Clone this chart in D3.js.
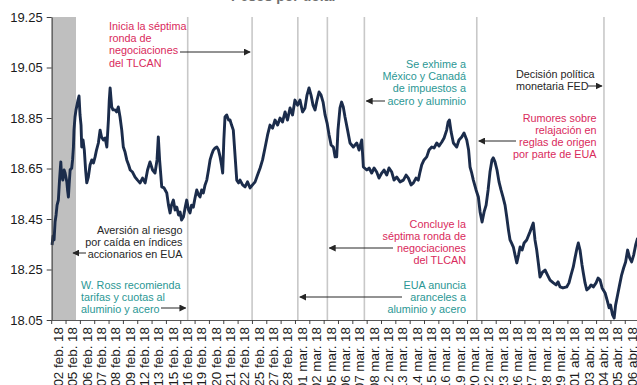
<!DOCTYPE html>
<html><head><meta charset="utf-8">
<script src="https://cdn.jsdelivr.net/npm/d3@7"></script>
<style>
html,body{margin:0;padding:0;background:#fff;overflow:hidden}
svg{display:block;font-family:"Liberation Sans",Arial,sans-serif}
</style></head><body>
<svg id="chart" width="637" height="385"></svg>
<script>
// Trading sessions shown on the category axis
const sessionLabels = [
  "02 feb. 18","05 feb. 18","06 feb. 18","07 feb. 18","08 feb. 18","09 feb. 18",
  "12 feb. 18","13 feb. 18","15 feb. 18","16 feb. 18","19 feb. 18","20 feb. 18",
  "21 feb. 18","22 feb. 18","25 feb. 18","27 feb. 18","28 feb. 18","01 mar. 18",
  "02 mar. 18","05 mar. 18","06 mar. 18","07 mar. 18","08 mar. 18","12 mar. 18",
  "13 mar. 18","14 mar. 18","15 mar. 18","16 mar. 18","19 mar. 18","20 mar. 18",
  "22 mar. 18","23 mar. 18","26 mar. 18","27 mar. 18","28 mar. 18","29 mar. 18",
  "01 abr. 18","03 abr. 18","04 abr. 18","05 abr. 18","06 abr. 18"
];

// Intraday quotes: position in sessions (0 = first session) and pesos per dollar
const priceT = [
  -0.44,-0.37,-0.30,-0.23,-0.16,-0.09,0.00,0.08,0.17,0.22,
  0.31,0.40,0.47,0.59,0.64,0.70,0.75,0.82,0.93,0.99,
  1.05,1.09,1.16,1.23,1.30,1.37,1.44,1.51,1.58,1.63,
  1.72,1.81,1.90,1.98,2.09,2.21,2.33,2.45,2.56,2.66,
  2.79,2.91,3.01,3.14,3.26,3.38,3.49,3.55,3.61,3.68,
  3.72,3.81,3.95,4.06,4.18,4.30,4.42,4.53,4.65,4.77,
  4.90,5.01,5.17,5.35,5.52,5.70,5.87,6.05,6.22,6.39,
  6.57,6.74,6.88,6.97,7.06,7.21,7.37,7.56,7.68,7.79,
  7.89,8.02,8.14,8.26,8.38,8.49,8.59,8.72,8.84,8.95,
  9.08,9.18,9.29,9.41,9.53,9.65,9.78,9.88,9.99,10.11,
  10.23,10.35,10.47,10.58,10.68,10.81,10.93,11.05,11.17,11.28,
  11.38,11.46,11.54,11.62,11.74,11.87,11.97,12.08,12.20,12.32,
  12.44,12.57,12.67,12.85,13.02,13.19,13.37,13.54,13.72,13.89,
  14.07,14.24,14.41,14.59,14.76,14.94,15.11,15.29,15.46,15.63,
  15.81,15.98,16.16,16.33,16.50,16.68,16.85,17.03,17.20,17.34,
  17.48,17.62,17.76,17.90,18.04,18.18,18.32,18.46,18.60,18.74,
  18.88,19.02,19.18,19.30,19.41,19.50,19.64,19.75,19.87,19.99,
  20.17,20.34,20.57,20.81,20.97,21.16,21.27,21.51,21.67,21.85,
  22.02,22.20,22.36,22.55,22.71,22.90,23.06,23.25,23.41,23.60,
  23.83,24.06,24.25,24.41,24.60,24.76,24.94,25.10,25.22,25.34,
  25.50,25.69,25.85,26.04,26.20,26.39,26.55,26.74,26.90,27.08,
  27.18,27.27,27.39,27.55,27.78,27.94,28.13,28.29,28.48,28.61,
  28.71,28.81,28.94,29.13,29.29,29.41,29.55,29.69,29.83,29.97,
  30.10,30.24,30.33,30.45,30.59,30.73,30.87,31.01,31.15,31.27,
  31.39,31.50,31.60,31.73,31.85,31.97,32.09,32.20,32.34,32.48,
  32.66,32.89,33.12,33.24,33.36,33.49,33.59,33.77,33.94,34.15,
  34.29,34.52,34.71,34.85,34.99,35.19,35.45,35.61,35.75,35.91,
  36.03,36.17,36.26,36.38,36.52,36.61,36.73,36.85,37.01,37.15,
  37.31,37.50,37.64,37.78,37.92,38.13,38.27,38.41,38.51,38.65,
  38.76,38.86,39.00,39.14,39.28,39.42,39.56,39.70,39.84,39.98,
  40.12,40.26,40.40
];
const priceMXN = [
  18.347,18.383,18.367,18.438,18.466,18.505,18.525,18.604,18.676,18.624,
  18.604,18.644,18.632,18.597,18.565,18.537,18.585,18.644,18.652,18.684,
  18.735,18.802,18.854,18.882,18.901,18.921,18.937,18.862,18.822,18.735,
  18.763,18.723,18.644,18.593,18.616,18.664,18.684,18.672,18.696,18.723,
  18.751,18.802,18.775,18.763,18.771,18.735,18.842,18.921,18.969,18.921,
  18.894,18.882,18.882,18.874,18.894,18.854,18.802,18.735,18.715,18.684,
  18.664,18.644,18.636,18.616,18.604,18.593,18.612,18.593,18.644,18.676,
  18.644,18.632,18.684,18.775,18.684,18.577,18.573,18.553,18.505,18.474,
  18.505,18.525,18.486,18.497,18.466,18.478,18.446,18.458,18.494,18.525,
  18.486,18.474,18.505,18.497,18.533,18.565,18.545,18.537,18.565,18.553,
  18.585,18.604,18.644,18.684,18.703,18.723,18.731,18.735,18.723,18.696,
  18.664,18.632,18.763,18.854,18.862,18.842,18.842,18.822,18.802,18.703,
  18.604,18.593,18.604,18.585,18.577,18.597,18.573,18.585,18.597,18.624,
  18.652,18.684,18.731,18.783,18.822,18.810,18.842,18.822,18.850,18.834,
  18.874,18.842,18.890,18.862,18.921,18.901,18.921,18.874,18.890,18.941,
  18.969,18.941,18.901,18.882,18.921,18.953,18.941,18.913,18.862,18.830,
  18.783,18.743,18.735,18.696,18.696,18.802,18.890,18.913,18.894,18.854,
  18.802,18.751,18.735,18.751,18.723,18.763,18.656,18.644,18.652,18.632,
  18.652,18.636,18.612,18.632,18.644,18.624,18.652,18.636,18.604,18.616,
  18.597,18.604,18.624,18.612,18.585,18.593,18.612,18.604,18.636,18.664,
  18.684,18.696,18.723,18.735,18.731,18.751,18.739,18.755,18.771,18.802,
  18.834,18.842,18.795,18.751,18.735,18.763,18.775,18.791,18.763,18.723,
  18.656,18.636,18.604,18.565,18.537,18.478,18.438,18.478,18.505,18.565,
  18.636,18.684,18.692,18.676,18.644,18.597,18.565,18.537,18.505,18.458,
  18.406,18.367,18.355,18.339,18.307,18.276,18.307,18.339,18.327,18.355,
  18.367,18.399,18.434,18.367,18.327,18.268,18.220,18.240,18.248,18.224,
  18.208,18.197,18.189,18.201,18.181,18.177,18.181,18.197,18.228,18.260,
  18.296,18.335,18.355,18.327,18.268,18.236,18.197,18.169,18.177,18.189,
  18.181,18.197,18.216,18.208,18.177,18.157,18.129,18.098,18.109,18.070,
  18.058,18.109,18.149,18.189,18.228,18.256,18.280,18.327,18.296,18.280,
  18.307,18.347,18.375
];

const yTicks = [19.25, 19.05, 18.85, 18.65, 18.45, 18.25, 18.05];

// Event markers (session position) and the shaded risk-off window
const eventSessions = [9.02, 13.51, 16.70, 18.76, 21.34, 29.18, 38.05];
const shadedSpan = [-0.5, 1.23];

const CRIMSON = "#d92a5c", TEAL = "#2b9794", INK = "#262626";

// Event notes: text block, alignment and arrow toward an event line
const notes = [
  {lines:["Inicia la séptima","ronda de","negociaciones","del TLCAN"], color:CRIMSON,
   anchor:"start", x:109, y:30, arrow:{from:180, event:1, side:-1, y:52}},
  {lines:["Se exhime a","México y Canadá","de impuestos a","acero y aluminio"], color:TEAL,
   anchor:"end", x:466, y:68, arrow:{from:385, event:4, side:1, y:101}},
  {lines:["Decisión política","monetaria FED"], color:INK,
   anchor:"start", x:516, y:77.5, arrow:{from:588, event:6, side:-1, y:86}},
  {lines:["Rumores sobre","relajación en","reglas de origen","por parte de EUA"], color:CRIMSON,
   anchor:"end", x:596.5, y:121.5, arrow:{from:516, event:5, side:1, y:141}},
  {lines:["Aversión  al riesgo","por caída en índices","accionarios en EUA"], color:INK,
   anchor:"end", x:182.5, y:234, arrow:{from:86, toX:73, y:253}},
  {lines:["W. Ross recomienda","tarifas y cuotas al","aluminio y acero"], color:TEAL,
   anchor:"start", x:81, y:289, arrow:{from:161, event:0, side:-1, y:308}},
  {lines:["Concluye la","séptima ronda de","negociaciones","del TLCAN"], color:CRIMSON,
   anchor:"end", x:466, y:227.5, arrow:{from:393, event:3, side:1, y:248}},
  {lines:["EUA anuncia","aranceles a","aluminio y acero"], color:TEAL,
   anchor:"end", x:466, y:289, arrow:{from:402, event:2, side:1, y:297}}
];

const svg = d3.select("#chart");
const W = 637, H = 385;
const margin = {left: 51.2, right: -2.1, top: 17, bottom: 65};

const x = d3.scaleLinear()
  .domain([-0.5, sessionLabels.length - 0.5])
  .range([margin.left, W - margin.right]);
const y = d3.scaleLinear()
  .domain([18.05, 19.25])
  .range([H - margin.bottom, margin.top]);

// Title above the plot (runs off the top edge)
svg.append("text")
  .attr("x", 284).attr("y", 0.5)
  .attr("text-anchor", "middle")
  .attr("font-size", 14).attr("font-weight", "bold")
  .attr("fill", "#6f6f6f")
  .text("Pesos por dólar");

// Shaded window
svg.append("rect")
  .attr("x", x(shadedSpan[0]))
  .attr("y", y(19.25))
  .attr("width", x(shadedSpan[1]) - x(shadedSpan[0]))
  .attr("height", y(18.05) - y(19.25))
  .attr("fill", "#bfbfbf");

// Event lines
svg.append("g").selectAll("line")
  .data(eventSessions)
  .join("line")
  .attr("x1", d => x(d)).attr("x2", d => x(d))
  .attr("y1", y(19.25)).attr("y2", y(18.05))
  .attr("stroke", "#c8c8c8").attr("stroke-width", 1.6);

// Price line
const pts = priceT.map((t, i) => [t, priceMXN[i]]);
svg.append("path")
  .datum(pts)
  .attr("fill", "none")
  .attr("stroke", "#1b2c4b")
  .attr("stroke-width", 2.9)
  .attr("stroke-linejoin", "round")
  .attr("d", d3.line().x(d => x(d[0])).y(d => y(d[1])));

// Y axis
const yAxis = svg.append("g")
  .attr("transform", `translate(${x(-0.5) + 0.5},0)`)
  .call(d3.axisLeft(y).tickValues(yTicks).tickSize(5).tickSizeOuter(0)
        .tickFormat(d3.format(".2f")));
yAxis.select(".domain").attr("stroke", "#404040");
yAxis.selectAll(".tick line").attr("stroke", "#404040");
yAxis.selectAll(".tick text")
  .attr("font-size", 13).attr("fill", "#1a1a1a")
  .attr("font-family", "Liberation Sans, Arial, sans-serif")
  .attr("x", -9);

// X axis: tick marks on session boundaries, labels at session centres
const bounds = d3.range(sessionLabels.length + 1).map(i => i - 0.5);
const xAxis = svg.append("g")
  .attr("transform", `translate(0,${y(18.05)})`)
  .call(d3.axisBottom(x).tickValues(bounds).tickSize(4).tickSizeOuter(0).tickFormat(""));
xAxis.select(".domain").attr("stroke", "#595959").attr("stroke-width", 1.2);
xAxis.selectAll(".tick line").attr("stroke", "#404040");

svg.append("g").selectAll("text")
  .data(sessionLabels)
  .join("text")
  .attr("transform", (d, i) => `translate(${x(i)},${y(18.05) + 7}) rotate(-90)`)
  .attr("text-anchor", "end")
  .attr("dy", "0.35em")
  .attr("font-size", 13.4)
  .attr("fill", "#1a1a1a")
  .text(d => d);

// Arrowhead
svg.append("defs").append("marker")
  .attr("id", "head")
  .attr("viewBox", "0 0 10 10")
  .attr("refX", 9).attr("refY", 5)
  .attr("markerWidth", 7).attr("markerHeight", 7)
  .attr("markerUnits", "userSpaceOnUse")
  .attr("orient", "auto")
  .append("path").attr("d", "M0,0 L10,5 L0,10 Z").attr("fill", INK);

// Notes
const noteG = svg.append("g");
notes.forEach(n => {
  const t = noteG.append("text")
    .attr("text-anchor", n.anchor)
    .attr("font-size", 10.8)
    .attr("fill", n.color);
  n.lines.forEach((ln, k) => {
    t.append("tspan").attr("x", n.x).attr("y", n.y + k * 12.2).text(ln);
  });
  const a = n.arrow;
  const toX = a.toX !== undefined ? a.toX : x(eventSessions[a.event]) + a.side * 2;
  noteG.append("line")
    .attr("x1", a.from).attr("x2", toX)
    .attr("y1", a.y).attr("y2", a.y)
    .attr("stroke", INK).attr("stroke-width", 1)
    .attr("marker-end", "url(#head)");
});
</script>
</body></html>
